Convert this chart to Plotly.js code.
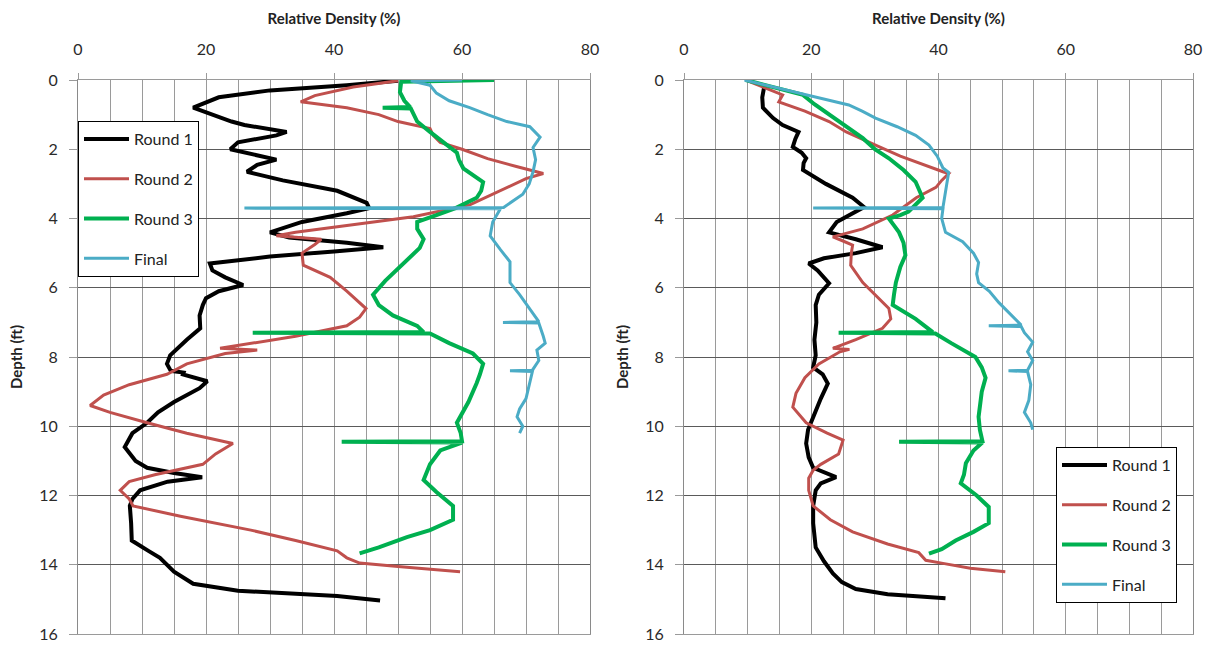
<!DOCTYPE html>
<html>
<head>
<meta charset="utf-8">
<script src="https://cdn.plot.ly/plotly-3.0.1.min.js"></script>
<style>
html,body{margin:0;padding:0;background:#fff;}
#chart{width:1210px;height:647px;}
</style>
</head>
<body>
<div id="chart"></div>
<script>
// ---------- DATA ----------
var seriesNames = ["Round 1", "Round 2", "Round 3", "Final"];
var xTickVals = [0, 20, 40, 60, 80];
var yTickVals = [0, 2, 4, 6, 8, 10, 12, 14, 16];
var xAxisTitle = "Relative Density (%)";
var yAxisTitle = "Depth (ft)";

// Left panel
var leftR1Depth = [0.02,0.15,0.3,0.5,0.8,1.0,1.2,1.3,1.5,1.6,1.8,2.0,2.2,2.3,2.45,2.65,2.9,3.2,3.55,3.7,3.85,4.1,4.4,4.55,4.7,4.83,4.95,5.1,5.3,5.5,5.7,5.92,6.1,6.3,6.5,6.8,7.17,7.5,7.95,8.2,8.4,8.45,8.5,8.7,8.9,9.3,9.6,9.9,10.2,10.6,11.0,11.2,11.35,11.47,11.6,11.85,12.1,12.3,12.8,13.3,13.6,13.8,14.2,14.55,14.75,14.9,15.03];
var leftR1RD    = [50,42,30,22,18,21,24,26,32.6,31,25,23.8,29,31,28,26.4,32,40.5,45.1,45.5,42,35,30,33,42,47.7,40,30,20.6,21,23,25.8,22,20,19.5,19,19.1,17,14.4,13.9,14.5,16.5,16.4,20.2,19,15,12.5,10.8,8.5,7.3,9,10.8,15,19.4,14,9.7,8.5,8.1,8.3,8.4,11,12.8,15,18,25,40.5,47.2];

var leftR2Depth = [0.02,0.2,0.45,0.63,0.8,1.0,1.2,1.4,1.6,1.8,2.0,2.27,2.5,2.7,2.85,3.2,3.6,3.95,4.2,4.4,4.5,4.6,4.75,5.0,5.35,5.7,6.1,6.6,6.85,7.1,7.4,7.75,7.8,7.9,8.2,8.5,8.8,9.1,9.4,9.6,9.9,10.2,10.5,10.8,11.1,11.4,11.6,11.85,12.1,12.3,12.6,13.0,13.3,13.6,13.8,13.95,14.05,14.2];
var leftR2RD    = [50,43,37,34.8,42,47,50,55,55.5,56.6,60,64,68.5,72.7,70,66,61.3,52.4,42,34,31,38,37,35,35.2,39.4,42,45,44,42,34,22.2,28,23,17,13.9,8,4,1.9,5,10.8,17,24.2,21.5,19.5,12,8,6.6,8,8.6,16,27,34,40.5,42,44,50,59.7];

var leftR3Depth = [0,0.05,0.35,0.6,0.78,0.8,0.82,1.0,1.2,1.5,1.8,2.1,2.3,2.55,2.95,3.2,3.4,3.7,3.9,4.1,4.3,4.6,4.85,5.1,5.4,5.8,6.2,6.5,6.8,7.1,7.28,7.3,7.32,7.6,7.9,8.2,8.5,8.75,9.3,9.9,10.2,10.43,10.45,10.47,10.7,11.1,11.55,11.9,12.3,12.7,13.0,13.2,13.5,13.67];
var leftR3RD    = [65,50.5,50.3,51,51.9,47.6,52,52.5,53,55,57,59.2,59.5,60.2,63.3,63,62.3,59,56,53,53,54,53.4,52,50.3,48,46.1,47,49.2,53,54,27.3,55,58,61.7,63.3,62.8,62.3,61,59.2,59.8,60,41.2,60,56.6,55,54,56,58.6,58.6,55,51.4,47,44];

var leftFDepth = [0,0.02,0.15,0.38,0.6,0.8,1.0,1.2,1.35,1.65,1.95,2.3,2.65,3.0,3.3,3.68,3.7,3.72,4.1,4.5,4.9,5.25,5.6,5.85,6.2,6.6,6.98,7.0,7.02,7.4,7.6,7.8,8.1,8.38,8.4,8.42,8.75,9.2,9.5,9.73,10.0,10.2];
var leftFRD    = [60,52,55,56,58,61.2,64,67,70.6,72.2,71.1,71.5,71.1,70.5,69.5,66.5,26,66,64.8,64.4,66,67.5,67.5,67.5,69,70.6,72,66.4,72,72.7,73,71.7,72,71,67.5,71,70.6,70,69,68.6,69.5,69];

// Right panel
var rightR1Depth = [0.2,0.5,0.8,1.1,1.3,1.5,1.7,1.93,2.1,2.26,2.4,2.6,3.0,3.4,3.67,3.9,4.1,4.4,4.6,4.83,5.0,5.15,5.3,5.5,5.87,6.2,6.5,7.0,7.5,7.95,8.3,8.5,8.77,9.2,9.73,10.1,10.5,10.9,11.2,11.47,11.65,11.85,12.3,12.8,13.5,13.9,14.25,14.5,14.7,14.85,14.97];
var rightR1RD    = [12.6,12.3,12.4,14,15.5,18,17.5,17.1,18.5,19.2,18.8,18.7,22.3,26.5,28.3,26,24,22.8,27,31.2,27,22,19.6,21,22.8,21.2,20.7,20.8,20.5,20.7,20.3,21.8,22.6,21.5,20.3,19.5,19.2,19.6,20.3,23.9,21.5,20.7,20.3,20.3,20.7,22,23.4,24.8,27,32,41.1];

var rightR2Depth = [0,0.2,0.43,0.63,0.9,1.2,1.5,1.88,2.2,2.65,2.7,2.9,3.1,3.4,3.9,4.3,4.53,4.65,4.77,5.0,5.35,5.85,6.2,6.6,6.9,7.17,7.5,7.75,7.78,7.85,8.2,8.6,9.05,9.45,9.9,10.2,10.4,10.8,11.1,11.27,11.5,11.85,12.3,12.7,13.05,13.4,13.65,13.87,13.96,14.1,14.2];
var rightR2RD    = [9.7,12.5,15.5,14.9,19,22.8,25.5,30.1,34,40.7,41.6,40.5,39.6,36.5,32.8,28.1,23.4,25,26.5,26.3,26.2,28.1,30,32.2,32.5,31.2,27,23.4,26,24.5,21.2,19,17.6,17.1,19.2,22.5,25,24.3,21.5,20.3,19.6,19.6,20.3,23,26.5,32,36.9,38,40.7,45,50.5];

var rightR3Depth = [0,0.2,0.43,0.7,1.0,1.3,1.68,2.0,2.26,2.6,2.94,3.4,3.8,3.9,4.0,4.2,4.4,4.7,5.06,5.4,5.85,6.2,6.5,6.9,7.28,7.3,7.32,7.6,8.0,8.3,8.6,9.0,9.73,10.1,10.43,10.45,10.47,10.7,11.07,11.4,11.65,12.0,12.33,12.8,13.05,13.3,13.55,13.68];
var rightR3RD    = [9.7,14,18.7,20.5,22.8,25,28.1,30,32.2,34.5,36.4,37.5,35.3,34,32.2,33,33.8,34.5,34.8,34,33.3,33,32.8,36.4,39.1,24.3,39.5,42,45.8,46.8,47.4,46.8,46.3,46.5,46.9,33.8,46.9,45.5,44.3,44,43.5,46,47.9,47.9,45.5,42.7,40.5,38.5];

var rightFDepth = [0,0.2,0.45,0.72,0.9,1.1,1.35,1.6,1.88,2.2,2.54,2.67,3.0,3.23,3.68,3.7,3.72,4.0,4.4,4.67,5.0,5.27,5.6,5.85,6.1,6.43,6.7,7.0,7.08,7.1,7.12,7.3,7.57,7.85,8.1,8.38,8.4,8.42,8.8,9.25,9.6,9.9,10.1];
var rightFRD    = [9.5,14,20,25.9,28,30.1,33.5,36.4,38.5,39.8,40.7,41.6,41.3,41.1,40.7,20.3,40.7,40.5,41.1,43.8,45.5,46.3,46,46.3,48,49.5,51,52.6,53,47.9,53,53.5,54.8,54,54.8,54,51,54,54.5,54.2,53.5,54.5,54.8];

// ---------- STYLE ----------
var colors = ["#000000", "#c0504d", "#00b050", "#4bacc6"];
var widths = [4, 3, 4, 3];

var panels = [
  {xa: "x",  ya: "y",  legend: "legend",  sets: [[leftR1Depth, leftR1RD],[leftR2Depth, leftR2RD],[leftR3Depth, leftR3RD],[leftFDepth, leftFRD]]},
  {xa: "x2", ya: "y2", legend: "legend2", sets: [[rightR1Depth, rightR1RD],[rightR2Depth, rightR2RD],[rightR3Depth, rightR3RD],[rightFDepth, rightFRD]]}
];

var traces = [];
panels.forEach(function(p, pi){
  p.sets.forEach(function(s, i){
    traces.push({
      type: "scatter", mode: "lines",
      x: s[1], y: s[0],
      xaxis: p.xa, yaxis: p.ya,
      name: seriesNames[i],
      legend: p.legend,
      legendgroup: "g" + pi + "_" + i,
      line: {color: colors[i], width: widths[i]},
      hoverinfo: "x+y"
    });
  });
});

var FONT = "Lato, 'Open Sans', sans-serif";
function xAxis(domain, anchor){
  return {
    domain: domain, anchor: anchor, side: "top",
    range: [0, 80], tickvals: xTickVals, ticktext: xTickVals.map(String),
    showgrid: true, gridcolor: "#9a9a9a", gridwidth: 1,
    minor: {dtick: 5, showgrid: true, gridcolor: "#9a9a9a", gridwidth: 1},
    zeroline: false, showline: true, mirror: true, linecolor: "#9a9a9a", linewidth: 1,
    ticks: "outside", ticklen: 6, tickcolor: "#9a9a9a",
    ticklabelstandoff: 12,
    tickfont: {family: FONT, size: 16, color: "#2a2a2a"},
    title: {text: xAxisTitle, standoff: 10, font: {family: FONT, size: 15, color: "#222", weight: "bold"}},
    fixedrange: true
  };
}
function yAxis(domain, anchor){
  return {
    domain: domain, anchor: anchor,
    range: [16, 0], tickvals: yTickVals,
    showgrid: true, gridcolor: "#5a5a5a", gridwidth: 1,
    zeroline: false, showline: true, mirror: true, linecolor: "#8a8a8a", linewidth: 1,
    ticks: "outside", ticklen: 8, tickcolor: "#9a9a9a",
    ticklabelstandoff: 8,
    tickfont: {family: FONT, size: 16, color: "#2a2a2a"},
    title: {text: yAxisTitle, standoff: 12, font: {family: FONT, size: 15, color: "#222", weight: "bold"}},
    fixedrange: true
  };
}

var W = 1210, H = 647;
var yDom = [1 - 634/H, 1 - 80/H];
var legendBase = {
  bordercolor: "#000", borderwidth: 1, bgcolor: "#fff",
  font: {family: FONT, size: 16, color: "#222"},
  traceorder: "grouped", tracegroupgap: 16, itemwidth: 45,
  xanchor: "left", yanchor: "top"
};

var layout = {
  width: W, height: H,
  margin: {l: 0, r: 0, t: 0, b: 0},
  paper_bgcolor: "#fff", plot_bgcolor: "#fff",
  showlegend: true,
  xaxis: xAxis([78/W, 590/W], "y"),
  yaxis: yAxis(yDom, "x"),
  xaxis2: xAxis([684/W, 1193/W], "y2"),
  yaxis2: yAxis(yDom, "x2"),
  legend: Object.assign({}, legendBase, {x: 78/W, y: 1 - 121/H}),
  legend2: Object.assign({}, legendBase, {x: 1056/W, y: 1 - 447/H})
};

Plotly.newPlot("chart", traces, layout, {displayModeBar: false, staticPlot: true});
</script>
</body>
</html>
